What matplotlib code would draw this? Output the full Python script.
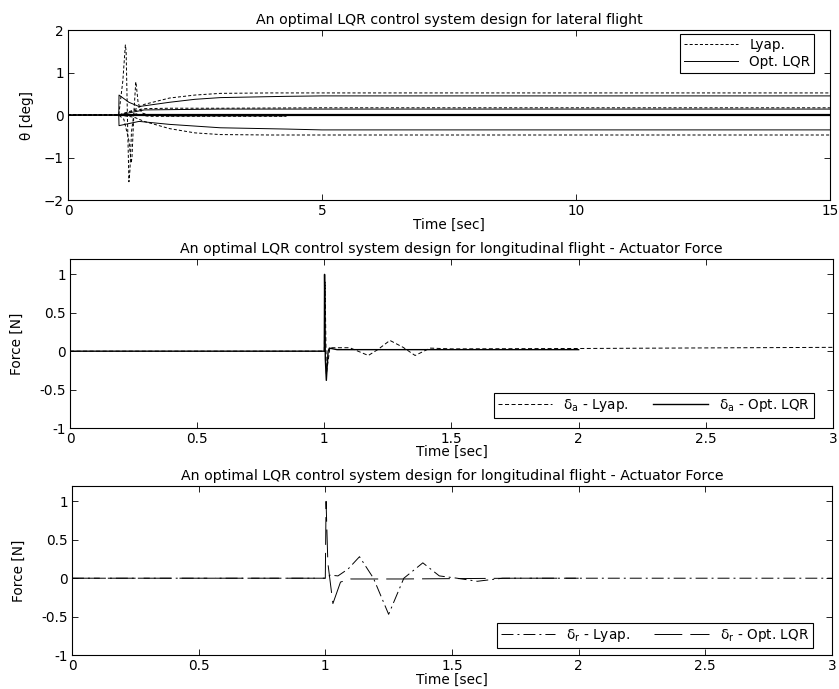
import matplotlib
matplotlib.use('Agg')
import matplotlib.pyplot as plt

plt.rcParams['font.family'] = ['DejaVu Sans']
plt.rcParams['mathtext.fontset'] = 'dejavusans'
plt.rcParams['lines.scale_dashes'] = False
plt.rcParams['xtick.direction'] = 'in'
plt.rcParams['ytick.direction'] = 'in'
plt.rcParams['xtick.top'] = True
plt.rcParams['ytick.right'] = True
plt.rcParams['axes.linewidth'] = 0.8

# lateral flight, theta [deg]
lyap_t1 = [0, 1, 1.3, 1.5, 2, 2.5, 3, 4, 15]
lyap_v1 = [0, 0, 0.12, 0.25, 0.4, 0.47, 0.51, 0.52, 0.52]
lyap_t2 = [0, 1, 1.3, 1.5, 2, 2.5, 3, 4, 15]
lyap_v2 = [0, 0, -0.05, -0.15, -0.32, -0.42, -0.46, -0.47, -0.47]
lyap_t3 = [0, 1, 1.3, 1.5, 2, 3, 5, 15]
lyap_v3 = [0, 0, 0.1, 0.15, 0.16, 0.16, 0.17, 0.17]
lyap_t4 = [0, 1, 1.08, 1.13, 1.145, 1.17, 1.2, 1.22, 1.25, 1.3, 1.4, 1.6, 2, 3, 4.3]
lyap_v4 = [0, 0, 0.8, 1.65, 1.5, 0.0, -1.57, -1.3, -0.4, 0.05, 0, -0.03, -0.03, -0.03, -0.03]
lyap_t5 = [0, 1, 1.1, 1.2, 1.245, 1.26, 1.3, 1.335, 1.35, 1.38, 1.45, 1.6, 2, 4.3]
lyap_v5 = [0, 0, -0.1, -0.6, -1.13, -1.0, 0.1, 0.78, 0.65, 0.3, 0.05, 0, -0.02, -0.02]

lqr_t1 = [0, 1, 1.005, 1.2, 1.4, 2, 2.5, 3, 4.3, 5, 15]
lqr_v1 = [0, 0, 0.47, 0.3, 0.2, 0.3, 0.37, 0.41, 0.44, 0.45, 0.45]
lqr_t2 = [0, 1, 1.2, 1.5, 3, 15]
lqr_v2 = [0, 0, 0.05, 0.12, 0.14, 0.14]
lqr_t3 = [1, 15]
lqr_v3 = [0.01, 0.01]
lqr_t4 = [0, 1, 1.005, 1.4, 2, 3, 4.3, 5, 15]
lqr_v4 = [0, 0, -0.25, -0.15, -0.22, -0.3, -0.33, -0.35, -0.35]

# actuator force, delta_a
opt_a_t = [0, 1, 1.001, 1.004, 1.008, 1.015, 1.02, 1.05, 1.5, 2]
opt_a_v = [0, 0, 1.0, -0.1, -0.38, 0.0, 0.04, 0.02, 0.02, 0.02]
lyap_a_t = [0, 1, 1.003, 1.008, 1.022, 1.1, 1.173, 1.21, 1.258, 1.31, 1.357, 1.416, 1.5, 2, 3]
lyap_a_v = [0, 0, 0.9, -0.3, 0.045, 0.045, -0.056, 0.02, 0.14, 0.05, -0.056, 0.04, 0.03, 0.035, 0.05]

# actuator force, delta_r
opt_r_t = [0, 1, 1.003, 1.01, 1.03, 1.06, 1.1, 1.3, 1.75, 2]
opt_r_v = [0, 0, 1.0, 0.2, -0.33, -0.05, -0.01, -0.01, 0.0, 0.0]
lyap_r_t = [0, 1, 1.02, 1.05, 1.09, 1.135, 1.19, 1.25, 1.31, 1.385, 1.45, 1.52, 1.6, 1.7, 2, 3]
lyap_r_v = [0, 0, 0.04, 0.03, 0.12, 0.28, 0.0, -0.47, 0.0, 0.2, 0.03, 0.0, -0.04, 0.0, 0.0, 0.0]

fs = 9.8
fs_title = 10.2
fig = plt.figure(figsize=(8.39, 6.89), dpi=100)
ax1 = fig.add_axes([0.0810, 0.7097, 0.9082, 0.2467])
ax2 = fig.add_axes([0.0834, 0.3788, 0.9094, 0.2453])
ax3 = fig.add_axes([0.0858, 0.0493, 0.9058, 0.2453])

short_dash = (0, (2.2, 1.5))
lw = 0.7

# top: lateral flight
for t, v in [(lyap_t1, lyap_v1), (lyap_t2, lyap_v2), (lyap_t3, lyap_v3), (lyap_t4, lyap_v4)]:
    ax1.plot(t, v, color='black', lw=lw, linestyle=short_dash)
ax1.plot(lyap_t5, lyap_v5, color='black', lw=lw, linestyle=short_dash, label='Lyap.')
ax1.plot(lqr_t1, lqr_v1, color='black', lw=lw)
ax1.plot(lqr_t2, lqr_v2, color='black', lw=lw)
ax1.plot(lqr_t3, lqr_v3, color='black', lw=1.6)
ax1.plot(lqr_t4, lqr_v4, color='black', lw=lw, label='Opt. LQR')
ax1.set_xlim(0, 15)
ax1.set_ylim(-2, 2)
ax1.set_xticks([0, 5, 10, 15])
ax1.set_yticks([-2, -1, 0, 1, 2])
ax1.set_title('An optimal LQR control system design for lateral flight', fontsize=fs_title, pad=4)
ax1.set_xlabel('Time [sec]', fontsize=fs, labelpad=0)
ax1.set_ylabel('θ [deg]', fontsize=fs, labelpad=7)
ax1.legend(loc='upper right', fontsize=fs, handlelength=4.0, fancybox=False,
           edgecolor='black', framealpha=1, borderaxespad=0.3,
           bbox_to_anchor=(0.985, 1.0), borderpad=0.3, labelspacing=0.2)

# middle: delta_a
ax2.plot(lyap_a_t, lyap_a_v, color='black', lw=lw, linestyle=(0, (2.9, 1.8)),
         label=r'$\mathregular{\delta_a}$ - Lyap.')
ax2.plot(opt_a_t, opt_a_v, color='black', lw=1.0, label=r'$\mathregular{\delta_a}$ - Opt. LQR')
ax2.set_xlim(0, 3)
ax2.set_ylim(-1, 1.2)
ax2.set_xticks([0, 0.5, 1, 1.5, 2, 2.5, 3])
ax2.set_xticklabels(['0', '0.5', '1', '1.5', '2', '2.5', '3'])
ax2.set_yticks([-1, -0.5, 0, 0.5, 1])
ax2.set_yticklabels(['-1', '-0.5', '0', '0.5', '1'])
ax2.set_title('An optimal LQR control system design for longitudinal flight - Actuator Force',
              fontsize=fs_title, pad=4)
ax2.set_xlabel('Time [sec]', fontsize=fs, labelpad=-1)
ax2.set_ylabel('Force [N]', fontsize=fs, labelpad=11)
ax2.legend(loc='lower right', ncol=2, fontsize=fs, handlelength=4.0, fancybox=False,
           edgecolor='black', framealpha=1, bbox_to_anchor=(0.975, 0.06),
           borderaxespad=0, borderpad=0.3, columnspacing=1.8)

# bottom: delta_r
ax3.plot(lyap_r_t, lyap_r_v, color='black', lw=lw, linestyle=(0, (8.6, 2.9, 1.4, 2.9)),
         label=r'$\mathregular{\delta_r}$ - Lyap.')
ax3.plot(opt_r_t, opt_r_v, color='black', lw=lw, linestyle=(0, (20, 5.8)),
         label=r'$\mathregular{\delta_r}$ - Opt. LQR')
ax3.set_xlim(0, 3)
ax3.set_ylim(-1, 1.2)
ax3.set_xticks([0, 0.5, 1, 1.5, 2, 2.5, 3])
ax3.set_xticklabels(['0', '0.5', '1', '1.5', '2', '2.5', '3'])
ax3.set_yticks([-1, -0.5, 0, 0.5, 1])
ax3.set_yticklabels(['-1', '-0.5', '0', '0.5', '1'])
ax3.set_title('An optimal LQR control system design for longitudinal flight - Actuator Force',
              fontsize=fs_title, pad=4)
ax3.set_xlabel('Time [sec]', fontsize=fs, labelpad=0)
ax3.set_ylabel('Force [N]', fontsize=fs, labelpad=11)
ax3.legend(loc='lower right', ncol=2, fontsize=fs, handlelength=4.0, fancybox=False,
           edgecolor='black', framealpha=1, bbox_to_anchor=(0.975, 0.04),
           borderaxespad=0, borderpad=0.3, columnspacing=1.8)

for ax in (ax1, ax2, ax3):
    ax.tick_params(labelsize=fs, length=4, width=0.6, pad=3)
    ax.get_legend().get_frame().set_linewidth(0.8)

fig.savefig('out.png', dpi=100)
